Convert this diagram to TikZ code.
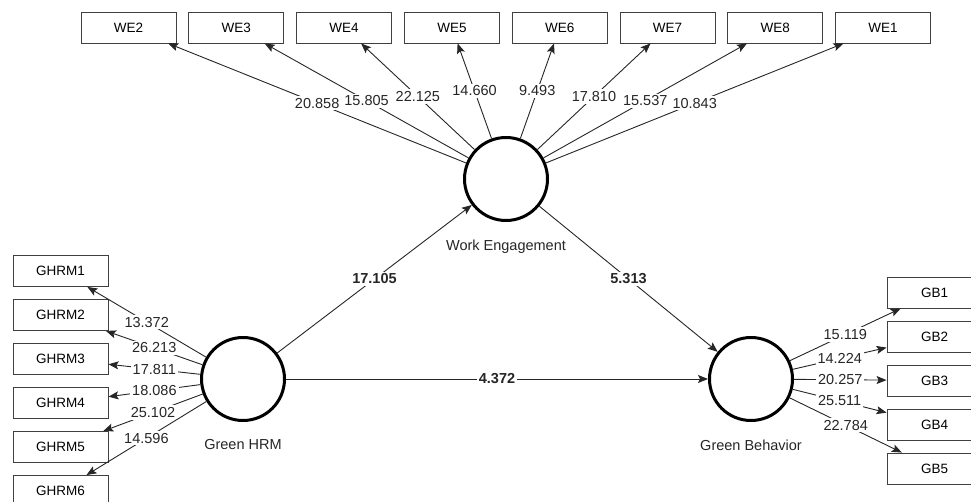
\documentclass[tikz,border=0pt]{standalone}
\usepackage{fontspec}
\setmainfont{Liberation Sans}
\usetikzlibrary{arrows.meta,positioning}

\begin{document}
\begin{tikzpicture}[x=1pt, y=-1pt,
  ind/.style={draw=black!75, line width=0.9pt, minimum width=95pt, minimum height=31pt, inner sep=0pt, font=\fontsize{13.5}{16}\selectfont},
  lv/.style={circle, draw=black, line width=3pt, minimum size=83pt, inner sep=0pt},
  lvname/.style={font=\fontsize{14.5}{17}\selectfont, text=black!85},
  coef/.style={fill=white, inner sep=2pt, font=\fontsize{14.5}{17}\selectfont, text=black!85},
  pcoef/.style={coef, font=\bfseries\fontsize{14.5}{17}\selectfont},
  conn/.style={->, line width=0.9pt, draw=black!85},
  >={Stealth[length=10pt,width=8pt,inset=2pt]}]
  \useasboundingbox (0,0) rectangle (971,502);
  % latent variables
  \node[lv] (we) at (506,179) {};
  \node[lv] (ghrm) at (243,379) {};
  \node[lv] (gb) at (751,379) {};
  \node[lvname, below=14pt of we] (wel) {Work Engagement};
  \node[lvname, below=14pt of ghrm] (ghrml) {Green HRM};
  \node[lvname, below=14pt of gb] (gbl) {Green Behavior};
  % indicators
  \foreach \n [count=\i] in {2,3,4,5,6,7,8,1}
    \node[ind] (WE\n) at ({128.5+107.8*(\i-1)},27.5) {WE\n};
  \foreach \i in {1,...,6}
    \node[ind] (GHRM\i) at (60.5,{271+44*(\i-1)}) {GHRM\i};
  \foreach \i in {1,...,5}
    \node[ind] (GB\i) at (934.5,{292.5+44*(\i-1)}) {GB\i};
  % outer loadings
  \foreach \n/\v in {2/20.858, 3/15.805, 4/22.125, 5/14.660, 6/9.493, 7/17.810, 8/15.537, 1/10.843}
    \draw[conn] (we) -- (WE\n) node[coef, midway] {\v};
  \foreach \n/\v in {1/13.372, 2/26.213, 3/17.811, 4/18.086, 5/25.102, 6/14.596}
    \draw[conn] (ghrm) -- (GHRM\n) node[coef, midway] {\v};
  \foreach \n/\v in {1/15.119, 2/14.224, 3/20.257, 4/25.511, 5/22.784}
    \draw[conn] (gb) -- (GB\n) node[coef, midway] {\v};
  % inner model
  \draw[conn] (ghrm) -- (we) node[pcoef, midway] {17.105};
  \draw[conn] (we) -- (gb) node[pcoef, midway] {5.313};
  \draw[conn] (ghrm) -- (gb) node[pcoef, midway] {4.372};
\end{tikzpicture}
\end{document}
